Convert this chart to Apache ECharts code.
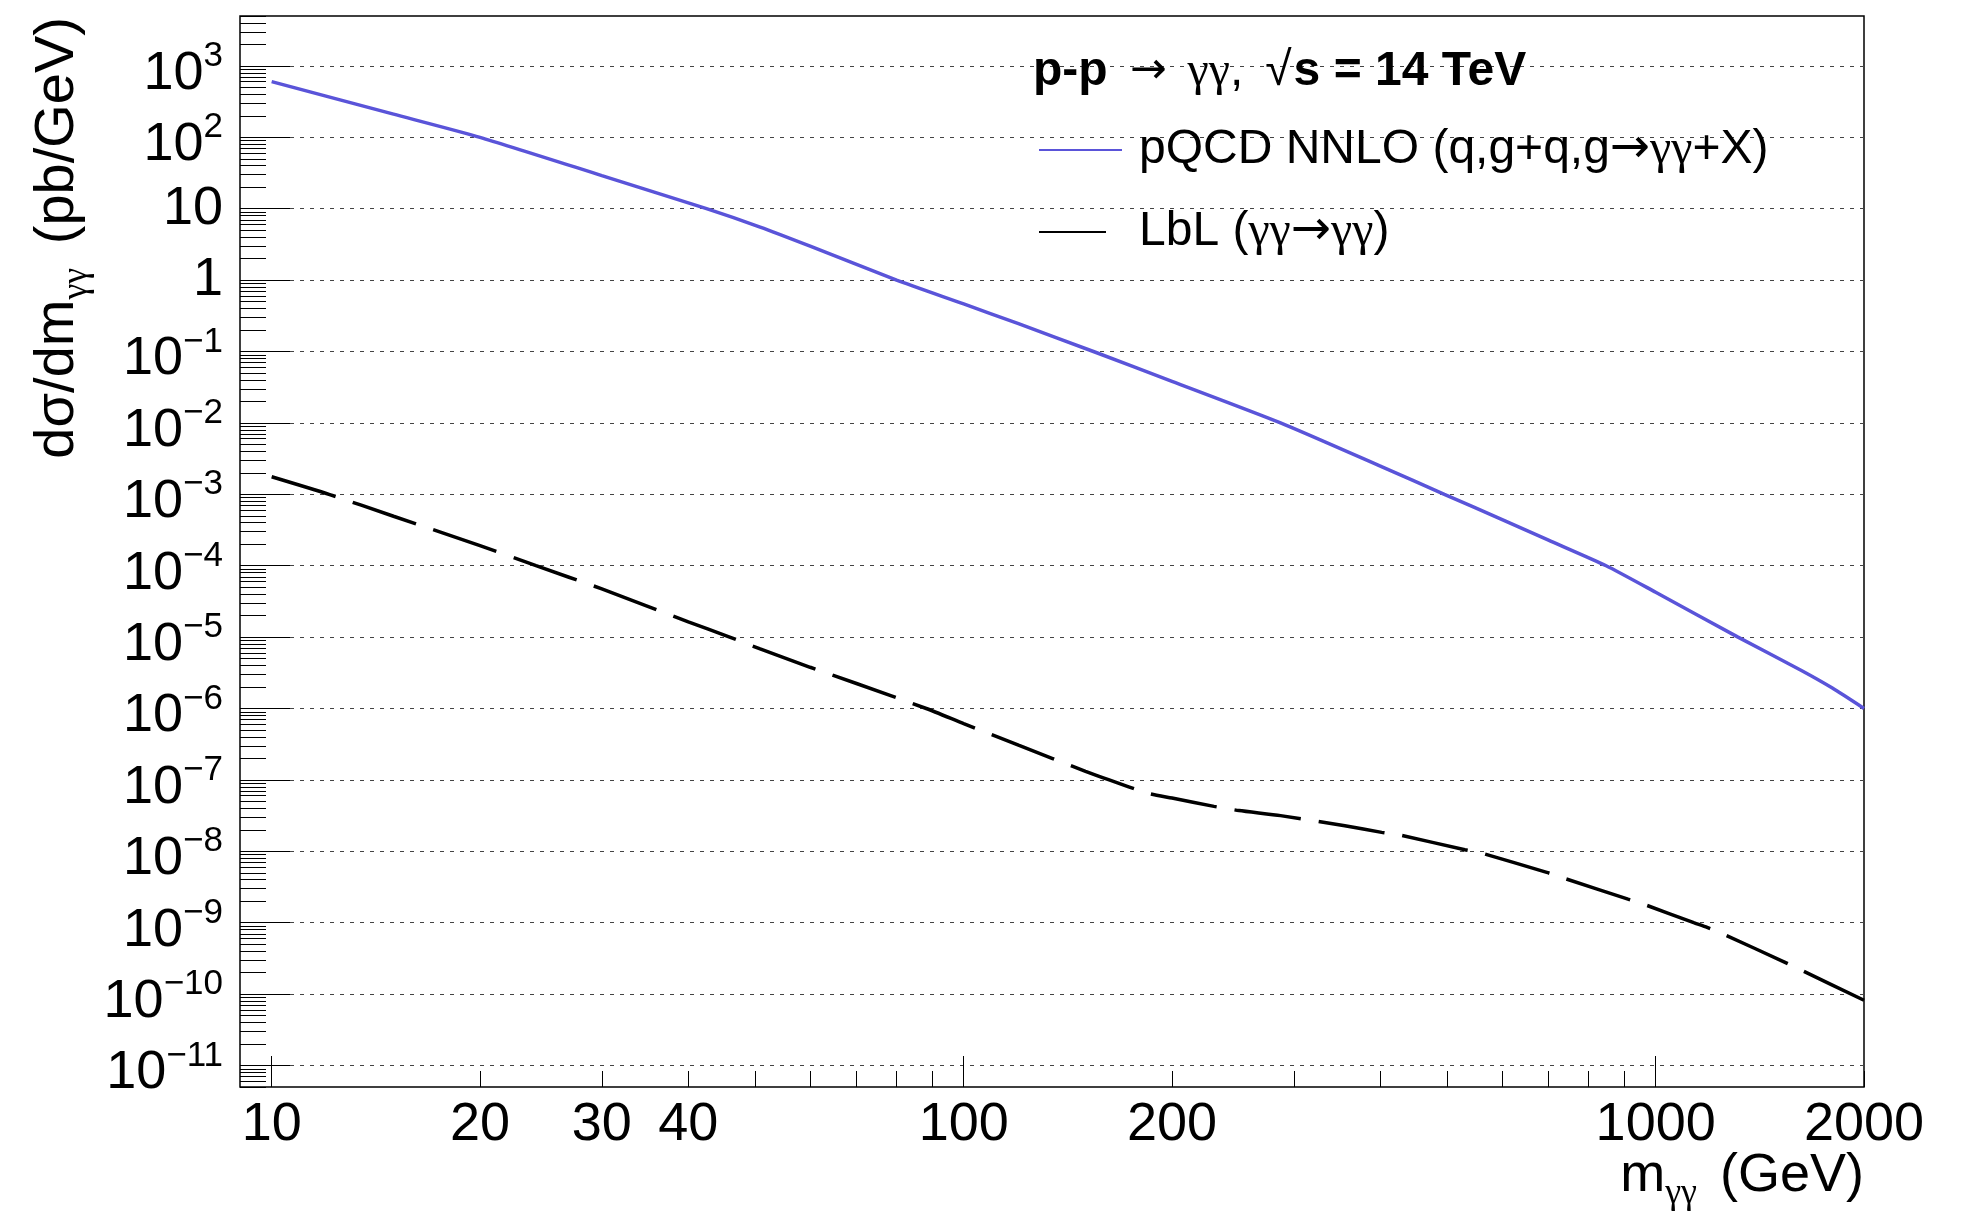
<!DOCTYPE html>
<html><head><meta charset="utf-8">
<script src="https://cdn.jsdelivr.net/npm/echarts@6/dist/echarts.min.js"></script>
<style>html,body{margin:0;padding:0;background:#fff}#c{width:1968px;height:1215px}</style>
</head><body><div id="c"></div>
<script>
const FONT = "'Liberation Sans', Arial, Helvetica, 'DejaVu Sans', sans-serif";
const SERIF = "'Liberation Serif', 'DejaVu Serif', serif";
const ARROWFONT = "'DejaVu Sans', sans-serif";

// ---- data ----
const massPQCD = [10, 15, 20, 30, 42.5, 50.8, 60, 80, 100, 120, 154, 200, 287, 400, 495, 600, 700, 848, 1000, 1315, 1624, 1800, 2000];
const xsecPQCD = [603, 211, 100, 29.1, 10, 5.53, 2.99, 1.0, 0.464, 0.245, 0.1, 0.0382, 0.01, 2.48e-3, 1.0e-3, 4.42e-4, 2.28e-4, 1.0e-4, 4.25e-5, 1.0e-5, 3.40e-6, 1.93e-6, 1.0e-6];

const massLbL = [10, 12.1, 15, 20, 24.1, 30, 40, 45.9, 50.8, 60, 70, 88.3, 100, 120, 150, 162.3, 184.8, 200, 230, 250, 287, 355.5, 401.8, 427, 530, 560, 696, 735.6, 912, 963, 1135, 1186.6, 1251.6, 1535, 1619, 2000];
const xsecLbL = [1.76e-3, 1.0e-3, 4.93e-4, 1.91e-4, 1.0e-4, 4.73e-5, 1.64e-5, 1.0e-5, 6.84e-6, 3.78e-6, 2.24e-6, 1.0e-6, 6.15e-7, 3.06e-7, 1.32e-7, 1.0e-7, 6.47e-8, 5.57e-8, 4.26e-8, 3.72e-8, 3.16e-8, 2.28e-8, 1.84e-8, 1.69e-8, 1.05e-8, 9.46e-9, 5.06e-9, 4.23e-9, 2.14e-9, 1.80e-9, 1.0e-9, 8.57e-10, 6.93e-10, 2.81e-10, 2.19e-10, 8.2e-11];

const seriesNames = ['pQCD NNLO (q,g+q,g\u2192\u03b3\u03b3+X)', 'LbL (\u03b3\u03b3\u2192\u03b3\u03b3)'];
const legendRich = {
  [seriesNames[0]]: '{t|pQCD NNLO (q,g+q,g}{a|\u2192}{g|\u03b3\u03b3}{t|+X)}',
  [seriesNames[1]]: '{t|LbL (}{g|\u03b3\u03b3}{a|\u2192}{g|\u03b3\u03b3}{t|)}'
};

// ---- axes / ticks ----
const xRange = [9, 2000];
const yRange = [5e-12, 5e3];
const xLabelTicks = [10, 20, 30, 40, 100, 200, 1000, 2000];
const xMajorTicks = [10, 100, 1000];
const xMinorTicks = [20, 30, 40, 50, 60, 70, 80, 90, 200, 300, 400, 500, 600, 700, 800, 900, 2000];
const yDecades = [1e3, 1e2, 1e1, 1, 1e-1, 1e-2, 1e-3, 1e-4, 1e-5, 1e-6, 1e-7, 1e-8, 1e-9, 1e-10, 1e-11];
const yMinorMultipliers = [2, 3, 4, 5, 6, 7, 8, 9];

const yMinor = [];
for (let e = -12; e <= 3; e++) {
  for (const k of yMinorMultipliers) {
    const v = Number((k * Math.pow(10, e)).toPrecision(3));
    if (v >= yRange[0] && v <= yRange[1]) yMinor.push(v);
  }
}

function yLabel(v) {
  const e = Math.round(Math.log10(v));
  if (e === 0) return '{p|1}';
  if (e === 1) return '{p|10}';
  return '{b|10}{s|' + (e < 0 ? '\u2212' + (-e) : String(e)) + '}';
}

const chart = echarts.init(document.getElementById('c'), null, {renderer: 'canvas'});
chart.setOption({
  animation: false,
  backgroundColor: '#fff',
  grid: {left: 240, right: 104, top: 16, bottom: 128, show: true, borderColor: '#000', borderWidth: 1.5, backgroundColor: 'transparent'},
  xAxis: [
    {
      type: 'log', min: xRange[0], max: xRange[1], position: 'bottom', gridIndex: 0,
      axisLine: {show: false},
      axisTick: {show: true, inside: true, length: 31, customValues: xMajorTicks, lineStyle: {color: '#000', width: 1}},
      axisLabel: {customValues: xLabelTicks, formatter: v => String(Math.round(v)), margin: 11,
        color: '#000', fontFamily: FONT, fontSize: 54, lineHeight: 54},
      splitLine: {show: false}, minorTick: {show: false}
    },
    {
      type: 'log', min: xRange[0], max: xRange[1], position: 'bottom', gridIndex: 0, offset: 0,
      axisLine: {show: false},
      axisTick: {show: true, inside: true, length: 16, customValues: xMinorTicks, lineStyle: {color: '#000', width: 1}},
      axisLabel: {show: false}, splitLine: {show: false}
    }
  ],
  yAxis: [
    {
      type: 'log', min: yRange[0], max: yRange[1], position: 'left', gridIndex: 0,
      axisLine: {show: false},
      axisTick: {show: true, inside: true, length: 50, customValues: yDecades, lineStyle: {color: '#000', width: 1}},
      axisLabel: {
        customValues: yDecades, formatter: yLabel, margin: 17, color: '#000', fontFamily: FONT, fontSize: 54,
        rich: {
          p: {fontFamily: FONT, fontSize: 54, lineHeight: 54, color: '#000'},
          b: {fontFamily: FONT, fontSize: 54, lineHeight: 54, padding: [8, 0, 0, 0], verticalAlign: 'top', color: '#000'},
          s: {fontFamily: FONT, fontSize: 35, lineHeight: 35, verticalAlign: 'top', color: '#000'}
        }
      },
      splitLine: {show: true, lineStyle: {color: '#444', width: 1, type: [4, 6]}},
      minorTick: {show: false}
    },
    {
      type: 'log', min: yRange[0], max: yRange[1], position: 'left', gridIndex: 0, offset: 0,
      axisLine: {show: false},
      axisTick: {show: true, inside: true, length: 26, customValues: yMinor, lineStyle: {color: '#000', width: 1}},
      axisLabel: {show: false}, splitLine: {show: false}
    }
  ],
  legend: {
    orient: 'vertical', left: 1038, top: 126, padding: 0,
    itemWidth: 83, itemHeight: 20, itemGap: 34,
    itemStyle: {opacity: 0},
    formatter: name => legendRich[name],
    textStyle: {
      fontFamily: FONT, fontSize: 48, lineHeight: 48, color: '#000', padding: [0, 0, 0, 12],
      rich: {
        t: {fontFamily: FONT, fontSize: 48, lineHeight: 48, color: '#000'},
        a: {fontFamily: ARROWFONT, fontSize: 48, lineHeight: 48, color: '#000'},
        g: {fontFamily: SERIF, fontSize: 48, lineHeight: 48, color: '#000'}
      }
    },
    data: seriesNames
  },
  graphic: [
    {
      type: 'text', x: 1033, y: 72, z: 10,
      style: {
        text: '{b|p-p}{a|\u2192}{g|\u03b3\u03b3}{n|,}{r|\u221A}{b|s = 14 TeV}',
        align: 'left', verticalAlign: 'middle', textAlign: 'left', textVerticalAlign: 'middle',
        rich: {
          b: {fontFamily: FONT, fontSize: 48, lineHeight: 48, fontWeight: 'bold', fill: '#000', color: '#000'},
          a: {fontFamily: ARROWFONT, fontSize: 44, lineHeight: 48, padding: [0, 21, 0, 22], fill: '#000', color: '#000'},
          n: {fontFamily: FONT, fontSize: 48, lineHeight: 48, fill: '#000', color: '#000'},
          r: {fontFamily: FONT, fontSize: 48, lineHeight: 48, padding: [0, 2, 0, 22], fill: '#000', color: '#000'},
          g: {fontFamily: SERIF, fontSize: 48, lineHeight: 48, fill: '#000', color: '#000'}
        }
      }
    },
    {
      type: 'text', x: 1864, y: 1149, z: 10,
      style: {
        text: '{b|m}{g|\u03b3\u03b3}{b| (GeV)}',
        align: 'right', verticalAlign: 'top', textAlign: 'right', textVerticalAlign: 'top',
        rich: {
          b: {fontFamily: FONT, fontSize: 54, lineHeight: 54, verticalAlign: 'top', fill: '#000', color: '#000'},
          g: {fontFamily: SERIF, fontSize: 36, lineHeight: 36, padding: [27, 8, 0, 0], verticalAlign: 'top', fill: '#000', color: '#000'}
        }
      }
    },
    {
      type: 'text', x: 30, y: 17, rotation: Math.PI / 2, z: 10,
      style: {
        text: '{b|d\u03c3/dm}{g|\u03b3\u03b3}{b| (pb/GeV)}',
        align: 'right', verticalAlign: 'top', textAlign: 'right', textVerticalAlign: 'top',
        rich: {
          b: {fontFamily: FONT, fontSize: 56, lineHeight: 56, verticalAlign: 'top', fill: '#000', color: '#000'},
          g: {fontFamily: SERIF, fontSize: 36, lineHeight: 36, padding: [29, 8, 0, 0], verticalAlign: 'top', fill: '#000', color: '#000'}
        }
      }
    }
  ],
  series: [
    {
      name: seriesNames[0], type: 'line', xAxisIndex: 0, yAxisIndex: 0,
      data: massPQCD.map((m, i) => [m, xsecPQCD[i]]),
      symbol: 'none', showSymbol: false, smooth: 0.2,
      lineStyle: {color: '#5a54d9', width: 3.5}, itemStyle: {color: '#5a54d9'}, z: 3
    },
    {
      name: seriesNames[1], type: 'line', xAxisIndex: 0, yAxisIndex: 0,
      data: massLbL.map((m, i) => [m, xsecLbL[i]]),
      symbol: 'none', showSymbol: false, smooth: 0.2,
      lineStyle: {color: '#000', width: 3.5, type: [67, 18]}, itemStyle: {color: '#000'}, z: 3
    }
  ]
});
</script></body></html>
